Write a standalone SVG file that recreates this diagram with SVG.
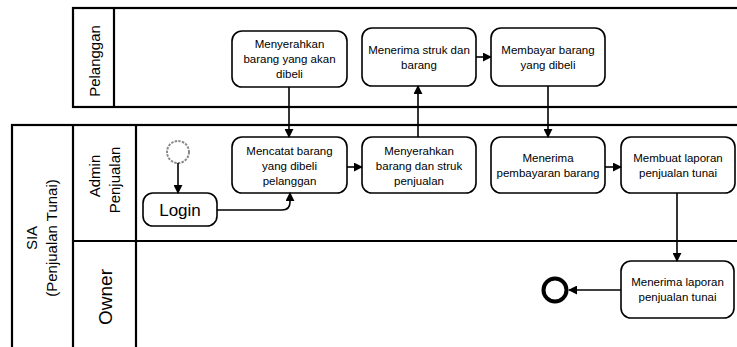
<svg xmlns="http://www.w3.org/2000/svg" width="737" height="347" viewBox="0 0 737 347">
  <style>
    .pool { fill: none; stroke: #000; stroke-width: 2.2; }
    .task rect { fill: #fff; stroke: #000; stroke-width: 1.6; }
    .task text { font-family: "Liberation Sans", Arial, sans-serif; font-size: 11.5px; fill: #000; text-anchor: middle; }
    .lbl { font-family: "Liberation Sans", Arial, sans-serif; font-size: 15px; fill: #000; text-anchor: middle; }
    .flow { fill: none; stroke: #000; stroke-width: 1.6; marker-end: url(#arrow); }
  </style>
  <defs>
    <marker id="arrow" viewBox="0 0 10 10" refX="9" refY="5" markerWidth="9" markerHeight="9" markerUnits="userSpaceOnUse" orient="auto">
      <path d="M0,0 L10,5 L0,10 Z" fill="#000"/>
    </marker>
  </defs>
  <rect width="737" height="347" fill="#fff"/>

  <!-- Pool: Pelanggan -->
  <g id="pool-pelanggan">
    <rect class="pool" x="73" y="8" width="680" height="99"/>
    <line class="pool" x1="114" y1="8" x2="114" y2="107"/>
    <text class="lbl" transform="translate(100,61) rotate(-90)">Pelanggan</text>
  </g>

  <!-- Pool: SIA (Penjualan Tunai) with lanes -->
  <g id="pool-sia">
    <rect class="pool" x="12" y="125" width="740" height="240"/>
    <line class="pool" x1="73" y1="125" x2="73" y2="360"/>
    <line class="pool" x1="136" y1="125" x2="136" y2="360"/>
    <line class="pool" x1="73" y1="241" x2="752" y2="241"/>
    <text class="lbl" transform="translate(37,238) rotate(-90)">SIA</text>
    <text class="lbl" transform="translate(57,238) rotate(-90)">(Penjualan Tunai)</text>
    <text class="lbl" transform="translate(100,176) rotate(-90)">Admin</text>
    <text class="lbl" transform="translate(120,180) rotate(-90)">Penjualan</text>
    <text class="lbl" style="font-size:19px" transform="translate(112,297) rotate(-90)">Owner</text>
  </g>

  <!-- Events -->
  <g id="start">
    <circle cx="178" cy="152" r="11" fill="#fff" stroke="#8a8a8a" stroke-width="2" stroke-dasharray="2.5 1.2"/>
  </g>
  <g id="end">
    <circle cx="555" cy="290" r="11.5" fill="#fff" stroke="#000" stroke-width="4"/>
  </g>

  <!-- Tasks -->
  <g id="login" class="task">
    <rect x="143" y="193" width="74" height="33" rx="10"/>
    <text x="180" y="216" style="font-size:17px">Login</text>
  </g>
  <g id="menyerahkan-barang" class="task">
    <rect x="232" y="31" width="115" height="56" rx="10"/>
    <text x="289.5" y="48">Menyerahkan</text>
    <text x="289.5" y="63">barang yang akan</text>
    <text x="289.5" y="78">dibeli</text>
  </g>
  <g id="menerima-struk" class="task">
    <rect x="362" y="28" width="114" height="58" rx="10"/>
    <text x="419" y="54">Menerima struk dan</text>
    <text x="419" y="69">barang</text>
  </g>
  <g id="membayar" class="task">
    <rect x="491" y="28" width="114" height="58" rx="10"/>
    <text x="548" y="54">Membayar barang</text>
    <text x="548" y="69">yang dibeli</text>
  </g>
  <g id="mencatat" class="task">
    <rect x="232" y="137" width="115" height="56" rx="10"/>
    <text x="289.5" y="155">Mencatat barang</text>
    <text x="289.5" y="170">yang dibeli</text>
    <text x="289.5" y="185">pelanggan</text>
  </g>
  <g id="menyerahkan-struk" class="task">
    <rect x="362" y="137" width="114" height="56" rx="10"/>
    <text x="419" y="155">Menyerahkan</text>
    <text x="419" y="170">barang dan struk</text>
    <text x="419" y="185">penjualan</text>
  </g>
  <g id="menerima-pembayaran" class="task">
    <rect x="491" y="137" width="114" height="56" rx="10"/>
    <text x="548" y="162">Menerima</text>
    <text x="548" y="177">pembayaran barang</text>
  </g>
  <g id="membuat-laporan" class="task">
    <rect x="621" y="137" width="114" height="56" rx="10"/>
    <text x="678" y="162">Membuat laporan</text>
    <text x="678" y="177">penjualan tunai</text>
  </g>
  <g id="menerima-laporan" class="task">
    <rect x="621" y="261" width="113" height="57" rx="10"/>
    <text x="677.5" y="286">Menerima laporan</text>
    <text x="677.5" y="301">penjualan tunai</text>
  </g>

  <!-- Sequence flows -->
  <g id="connectors">
    <path class="flow" d="M178,163 V193"/>
    <path class="flow" d="M217,210 H282 Q290,210 290,202 V193"/>
    <path class="flow" d="M289,87 V137"/>
    <path class="flow" d="M347,167 H362"/>
    <path class="flow" d="M418,137 V86"/>
    <path class="flow" d="M476,57 H491"/>
    <path class="flow" d="M548,86 V137"/>
    <path class="flow" d="M605,167 H621"/>
    <path class="flow" d="M677,193 V261"/>
    <path class="flow" d="M621,290 H569"/>
  </g>
</svg>
